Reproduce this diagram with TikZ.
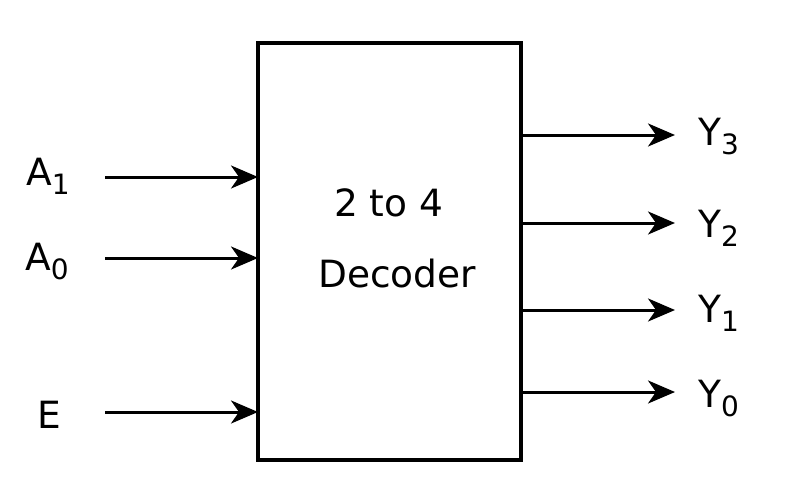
\documentclass[tikz,border=0pt]{standalone}
\usepackage{fontspec}
\setmainfont{DejaVu Sans}
\usetikzlibrary{arrows.meta}
\newcommand{\sbs}[1]{\raisebox{-9pt}{\fontsize{28}{28}\selectfont #1}}
\begin{document}
\begin{tikzpicture}[x=1pt,y=-1pt,
  wire/.style={line width=3pt,-{Stealth[length=27pt,width=23pt,inset=8pt]}},
  lbl/.style={font=\fontsize{37.5}{40}\selectfont, inner sep=0pt, anchor=base west},
  blk/.style={draw, line width=3.2pt}]
\useasboundingbox (0,0) rectangle (791,492);
\fill[white] (0,0) rectangle (791,492);
\node[blk, minimum width=263pt, minimum height=417pt, inner sep=0pt] (dec) at (389.5,251.5) {};
\node[lbl] (t1) at (334,216) {2 to 4};
\node[lbl] (t2) at (318,287) {Decoder};
\coordinate (i1) at (258,177);
\coordinate (i0) at (258,258);
\coordinate (ie) at (258,412);
\node[lbl] (a1) at (26,185) {A\sbs{1}};
\node[lbl] (a0) at (25,270) {A\sbs{0}};
\node[lbl] (e) at (37,428) {E};
\draw[wire] (105,177) -- (i1);
\draw[wire] (105,258) -- (i0);
\draw[wire] (105,412) -- (ie);
\node[lbl] (y3) at (698,145) {Y\sbs{3}};
\node[lbl] (y2) at (698,237) {Y\sbs{2}};
\node[lbl] (y1) at (698,322) {Y\sbs{1}};
\node[lbl] (y0) at (698,407) {Y\sbs{0}};
\coordinate (o3) at (521,135);
\coordinate (o2) at (521,223);
\coordinate (o1) at (521,310);
\coordinate (o0) at (521,392);
\draw[wire] (o3) -- (675,135);
\draw[wire] (o2) -- (675,223);
\draw[wire] (o1) -- (675,310);
\draw[wire] (o0) -- (675,392);
\end{tikzpicture}
\end{document}
